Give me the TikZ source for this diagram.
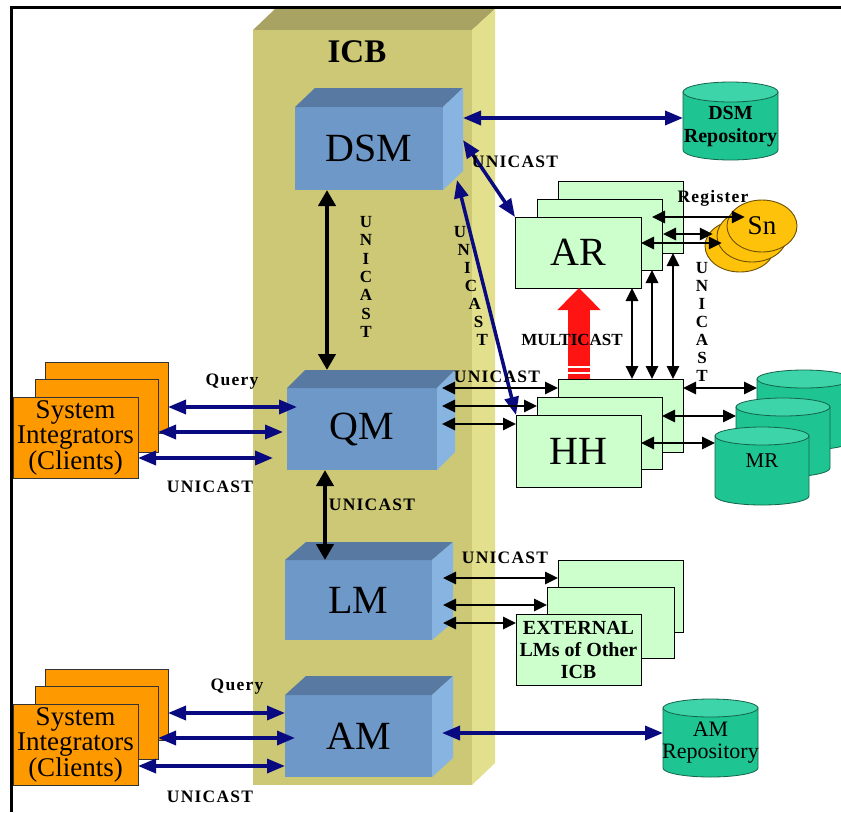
\documentclass[tikz,border=0pt]{standalone}
\usepackage{fontspec}
\setmainfont{Liberation Serif}
\newfontfamily\lbfont[LetterSpace=7]{Liberation Serif}
\usetikzlibrary{arrows.meta,calc}
\definecolor{icbfront}{RGB}{205,200,118}
\definecolor{icbtop}{RGB}{168,163,98}
\definecolor{icbside}{RGB}{226,224,140}
\definecolor{bfront}{RGB}{110,152,200}
\definecolor{btop}{RGB}{88,122,162}
\definecolor{bside}{RGB}{136,180,226}
\definecolor{lgreen}{RGB}{204,255,204}
\definecolor{orng}{RGB}{255,153,0}
\definecolor{teal1}{RGB}{30,196,146}
\definecolor{teal2}{RGB}{60,212,168}
\definecolor{tealdk}{RGB}{20,100,75}
\definecolor{gold}{RGB}{255,194,10}
\definecolor{golddk}{RGB}{110,80,0}
\definecolor{navyb}{RGB}{10,10,128}
\definecolor{redar}{RGB}{255,20,20}

\newcommand{\bbox}[8]{%
  \node[bluebox, minimum width={#4-#2}, minimum height={#5-#3}] (#1) at ({(#2+#4)/2},{(#3+#5)/2}) {#8};
  \fill[btop] (#1.north west) -- ++(#6,-#7) -- ++({#4-#2},0) -- (#1.north east) -- cycle;
  \fill[bside] (#1.north east) -- ++(#6,-#7) -- ++(0,{#5-#3}) -- (#1.south east) -- cycle;
}
\newcommand{\grbox}[7][]{%
  \node[greenbox, minimum width={#5-#3}, minimum height={#6-#4}, #1] (#2) at ({(#3+#5)/2},{(#4+#6)/2}) {#7};
}
\newcommand{\orbox}[7][]{%
  \node[orangebox, minimum width={#5-#3}, minimum height={#6-#4}, #1] (#2) at ({(#3+#5)/2},{(#4+#6)/2}) {#7};
}
\newcommand{\cyl}[9][]{%
  \filldraw[cylbody] (#3,#4) -- (#3,#6) arc[start angle=180,end angle=360,x radius={(#5-#3)/2*1pt},y radius={#7*1pt}] -- (#5,#4) -- cycle;
  \filldraw[cyltop] ({(#3+#5)/2},#4) ellipse[x radius={(#5-#3)/2*1pt}, y radius={#7*1pt}];
  \node[cyltext, minimum width={#5-#3}, minimum height={#6-#4}, #1] (#2) at ({(#3+#5)/2},{(#4+#6)/2}) {};
  \node[cyltext, #1] (#2txt) at ($(#2.center)+(0,#9)$) {#8};
}

\begin{document}
\begin{tikzpicture}[x=1pt,y=-1pt,
  bluebox/.style={fill=bfront, inner sep=0, outer sep=0, font=\fontsize{40}{42}\selectfont},
  greenbox/.style={fill=lgreen, draw=black, line width=0.8pt, inner sep=0, outer sep=0, align=center},
  orangebox/.style={fill=orng, draw=black!80, line width=0.8pt, inner sep=0, outer sep=0, align=center, font=\fontsize{27}{25.5}\selectfont},
  cylbody/.style={fill=teal1, draw=tealdk, line width=0.8pt},
  cyltop/.style={fill=teal2, draw=tealdk, line width=0.8pt},
  cyltext/.style={inner sep=0, outer sep=0, align=center},
  lab/.style={inner sep=0, font=\lbfont\bfseries\fontsize{17.5}{20}\selectfont},
  vlab/.style={inner sep=0, font=\bfseries\fontsize{17}{20}\selectfont},
  nv/.style={draw=navyb, line width=3.5pt, {Triangle[length=18pt,width=14pt]}-{Triangle[length=18pt,width=14pt]}},
  bk/.style={draw=black, line width=2.8pt, {Triangle[length=13pt,width=12pt]}-{Triangle[length=13pt,width=12pt]}},
  bkbig/.style={draw=black, line width=4pt, {Triangle[length=16pt,width=17pt]}-{Triangle[length=16pt,width=17pt]}},
]
\useasboundingbox (0,0) rectangle (841,812);
\fill[white] (0,0) rectangle (841,812);

% ICB column
\fill[icbtop] (253,30) -- (275,9) -- (495,9) -- (472,30) -- cycle;
\fill[icbside] (472,30) -- (495,9) -- (495,763) -- (472,785) -- cycle;
\node[fill=icbfront, inner sep=0, outer sep=0, minimum width=219, minimum height=755] (ICB) at (362.5,407.5) {};
\node[inner sep=0, font=\bfseries\fontsize{33}{36}\selectfont] (ICBlab) at (357,52) {ICB};

% frame
\draw[line width=3pt] (11.5,812) -- (11.5,7.5) -- (841,7.5);

% blue 3D boxes
\bbox{DSM}{295}{107}{443}{190}{20}{19}{DSM}
\bbox{QM}{287}{388}{437}{470}{18}{18}{QM}
\bbox{LM}{285}{560}{432}{640}{21}{18}{LM}
\bbox{AM}{285}{695}{432}{777}{21}{19}{AM}

% green stacks
\grbox{ARb}{558}{181}{683}{253}{}
\grbox{ARm}{537}{199}{662}{270}{}
\grbox[font=\fontsize{40}{42}\selectfont]{ARf}{515}{217}{641}{288}{AR}
\grbox{HHb}{558}{379}{683}{452}{}
\grbox{HHm}{537}{397}{662}{469}{}
\grbox[font=\fontsize{40}{42}\selectfont]{HHf}{516}{415}{641}{487}{HH}
\grbox{EXb}{558}{560}{683}{632}{}
\grbox{EXm}{547}{587}{674}{658}{}
\grbox[font=\bfseries\fontsize{20}{22}\selectfont]{EXf}{516}{614}{641}{685}{EXTERNAL\\LMs of Other\\ICB}

% orange stacks
\orbox{SIa1}{45}{362}{168}{433}{}
\orbox{SIa2}{35}{379}{158}{452}{}
\orbox{SIa3}{13}{397}{138}{478}{System\\Integrators\\(Clients)}
\orbox{SIb1}{45}{669}{168}{740}{}
\orbox{SIb2}{35}{686}{158}{759}{}
\orbox{SIb3}{13}{704}{138}{785}{System\\Integrators\\(Clients)}

% cylinders
\cyl[font=\bfseries\fontsize{20}{23}\selectfont]{DSMrepo}{683}{92}{778}{150}{10}{DSM\\Repository}{6}
\cyl[font=\fontsize{22}{22}\selectfont]{AMrepo}{663}{708}{758}{768}{9}{AM\\Repository}{5}
\cyl{MRb}{757}{379}{851}{441}{9}{}{0}
\cyl{MRm}{736}{407}{830}{468}{9}{}{0}
\cyl[font=\fontsize{21}{24}\selectfont]{MRf}{715}{436}{809}{496}{9}{MR}{-5}

% Sn discs
\filldraw[fill=gold, draw=golddk, line width=0.9pt] (740,246) ellipse[x radius=35pt, y radius=26pt];
\filldraw[fill=gold, draw=golddk, line width=0.9pt] (752,236) ellipse[x radius=35pt, y radius=26pt];
\filldraw[fill=gold, draw=golddk, line width=0.9pt] (762,226) ellipse[x radius=35pt, y radius=26pt];
\node[inner sep=0, minimum width=70, minimum height=52, font=\fontsize{27}{30}\selectfont] (Sn) at (762,226) {Sn};

% multicast block arrow
\draw[redar, line width=22pt, -{Triangle[length=22pt,width=42pt]}] (HHb.north -| 579,0) -- (ARf.south -| 579,0);
\draw[white, line width=2pt] (568,367) -- (590,367) (568,373) -- (590,373);

% navy arrows
\draw[nv] ($(DSM.north east)+(20,11)$) -- (DSMrepo.west |- 0,118);
\draw[nv] ($(DSM.north east)+(20,33)$) -- (ARf.north west);
\draw[nv] ($(DSM.south east)+(14,-10)$) -- (HHf.north west);
\draw[nv] (SIa1.east |- 0,407) -- ($(QM.west |- 0,407)+(10,0)$);
\draw[nv] (SIa2.east |- 0,432) -- ($(QM.west |- 0,432)+(-4,0)$);
\draw[nv] (SIa3.east |- 0,458) -- ($(QM.west |- 0,458)+(-14,0)$);
\draw[nv] (SIb1.east |- 0,713) -- (AM.west |- 0,713);
\draw[nv] (SIb2.east |- 0,738) -- ($(AM.west |- 0,738)+(10,0)$);
\draw[nv] (SIb3.east |- 0,766) -- (AM.west |- 0,766);
\draw[nv] ($(AM.east |- 0,733)+(10,0)$) -- (AMrepo.west |- 0,733);

% black arrows
\draw[bkbig] ($(DSM.south west)+(32,0)$) -- ($(QM.north west)+(40,-18)$);
\draw[bkbig] ($(QM.south west)+(38,0)$) -- ($(LM.north west)+(40,0)$);
\draw[bk] ($(QM.east |- 0,388)+(5,0)$) -- (HHb.west |- 0,388);
\draw[bk] ($(QM.east |- 0,406)+(5,0)$) -- (HHm.west |- 0,406);
\draw[bk] ($(QM.east |- 0,424)+(5,0)$) -- (HHf.west |- 0,424);
\draw[bk] (HHb.east |- 0,388) -- (MRb.west |- 0,388);
\draw[bk] (HHm.east |- 0,416) -- (MRm.west |- 0,416);
\draw[bk] (HHf.east |- 0,443) -- (MRf.west |- 0,443);
\draw[bk] (ARf.south -| 632,0) -- (HHb.north -| 632,0);
\draw[bk] (ARm.south -| 652,0) -- (HHb.north -| 652,0);
\draw[bk] (ARb.south -| 673,0) -- (HHb.north -| 673,0);
\draw[bk] ($(ARm.east |- 0,217)+(-10,0)$) -- ($(Sn.west |- 0,217)+(18,0)$);
\draw[bk] ($(ARb.east |- 0,234)+(-20,0)$) -- ($(Sn.west |- 0,234)+(-14,0)$);
\draw[bk] (ARf.east |- 0,243) -- ($(Sn.west |- 0,243)+(-5,0)$);
\draw[bk] ($(LM.east |- 0,578)+(11,0)$) -- (EXb.west |- 0,578);
\draw[bk] ($(LM.east |- 0,605)+(11,0)$) -- (EXm.west |- 0,605);
\draw[bk] ($(LM.east |- 0,623)+(11,0)$) -- (EXf.west |- 0,623);

% labels
\node[lab] (l1) at (515,162) {UNICAST};
\node[lab] (l2) at (497,377) {UNICAST};
\node[lab] (l3) at (372,505) {UNICAST};
\node[lab] (l4) at (505,558) {UNICAST};
\node[lab] (l5) at (210,487) {UNICAST};
\node[lab] (l6) at (210,797) {UNICAST};
\node[lab] (q1) at (232,382) {Query};
\node[lab] (q2) at (237,687) {Query};
\node[lab] (reg) at (713,198) {Register};
\node[vlab] (mc) at (572,340) {MULTICAST};
\foreach \l [count=\i from 0] in {U,N,I,C,A,S,T} {
  \node[vlab] (va\i) at (366,{222+18.3*\i}) {\l};
  \node[vlab] (vb\i) at ({460+3.7*\i},{232+18*\i}) {\l};
  \node[vlab] (vc\i) at (702,{268+18*\i}) {\l};
}
\end{tikzpicture}
\end{document}
